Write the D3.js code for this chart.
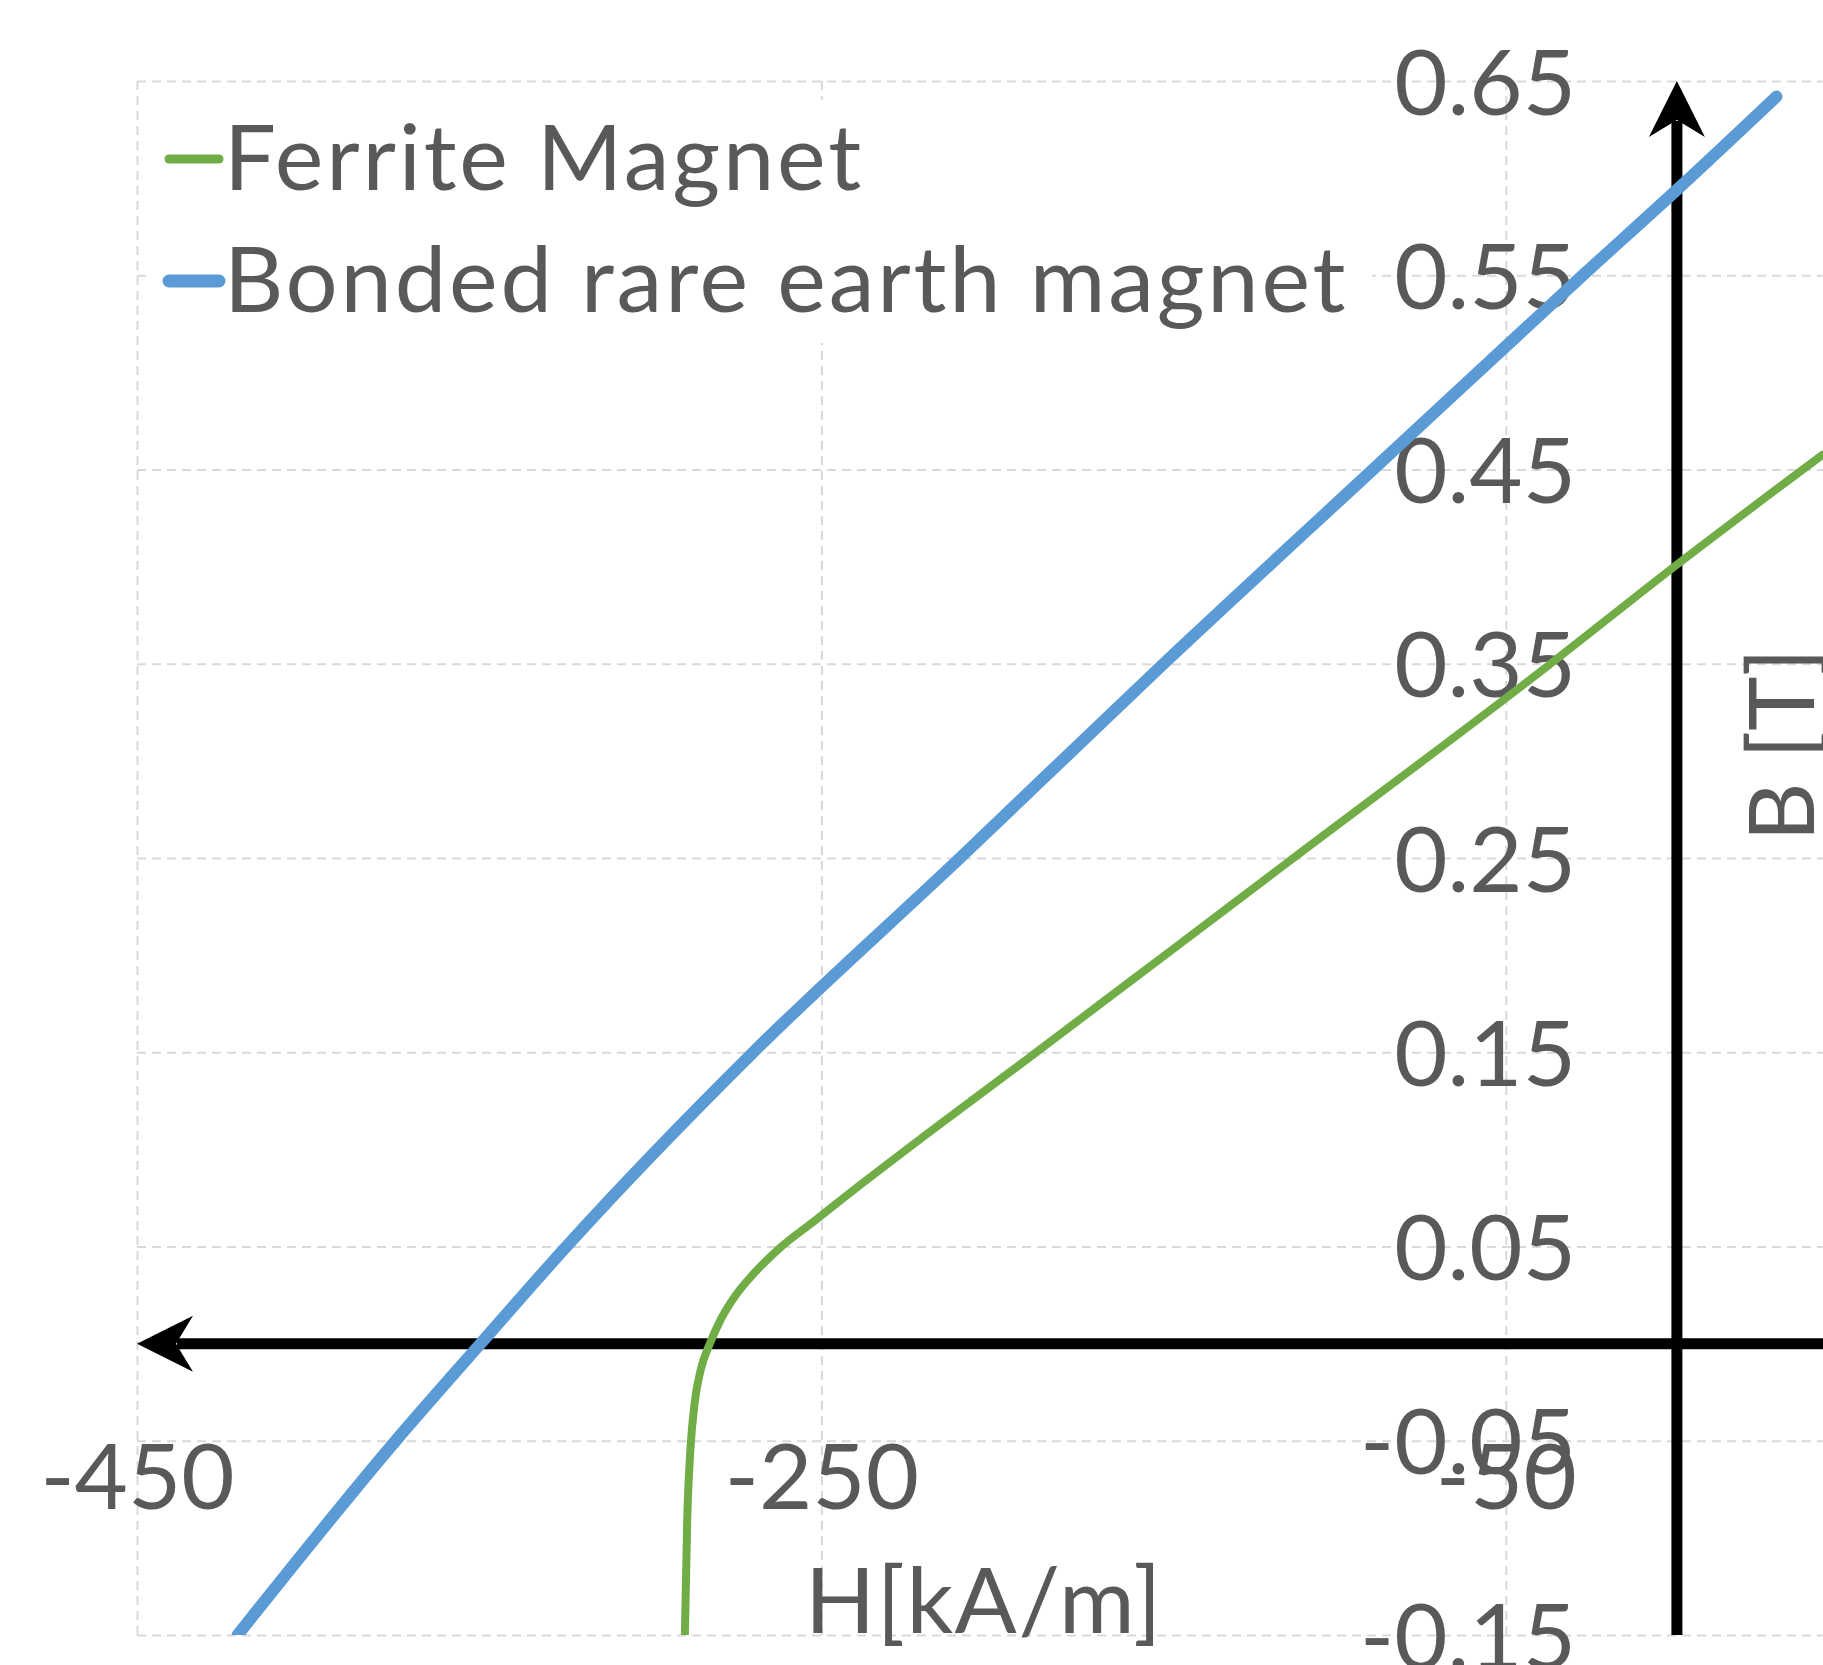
<!DOCTYPE html>
<html>
<head>
<meta charset="utf-8">
<script src="https://cdn.jsdelivr.net/npm/d3@7"></script>
<style>
  html, body { margin: 0; padding: 0; background: #fff; }
  svg { display: block; }
  text { font-family: Lato, "Open Sans", sans-serif; fill: #595959; }
</style>
</head>
<body>
<div id="chart"></div>
<script>
// axis ticks
const hTicks = [-450, -250, -50];
const bTicks = [-0.15, -0.05, 0.05, 0.15, 0.25, 0.35, 0.45, 0.55, 0.65];

// series (H in kA/m, B in T)
const seriesNames = ['Ferrite Magnet', 'Bonded rare earth magnet'];
const ferriteH = [-289.9, -289.2, -288.3, -287.0, -285.2, -282.6, -279.4, -275.2, -269.8, -262.3, -252, -238, -220, -190, -149, -115, -38, 0, 42.5];
const ferriteB = [-0.15, -0.09, -0.055, -0.03, -0.013, 0, 0.0125, 0.0245, 0.036, 0.049, 0.0632, 0.0826, 0.1068, 0.1463, 0.2008, 0.2461, 0.3485, 0.401, 0.4575];
const bondedH = [-420.6, -374.4, -349.6, -324.5, -269.9, -209.5, -150, -88.8, -27.5, 0, 29.1];
const bondedB = [-0.15, -0.05, 0, 0.05, 0.15, 0.25, 0.35, 0.45, 0.55, 0.594, 0.642];

const W = 1823, H = 1665;
const plot = { left: 137, right: 1848, top: 81, bottom: 1635 };
const fontSize = 92;

const color = d3.scaleOrdinal().domain(seriesNames).range(['#70AD47', '#5B9BD5']);
const strokeW = d3.scaleOrdinal().domain(seriesNames).range([8, 12]);

// plain hyphen for negative numbers, like the original
const locale = d3.formatLocale({ decimal: '.', thousands: ',', grouping: [3], currency: ['', ''], minus: '-' });

const x = d3.scaleLinear().domain([-450, 50]).range([plot.left, plot.right]);
const y = d3.scaleLinear().domain([-0.15, 0.65]).range([plot.bottom, plot.top]);

const svg = d3.select('#chart').append('svg')
  .attr('width', W).attr('height', H);
svg.append('rect').attr('width', W).attr('height', H).attr('fill', '#fff');

// gridlines
const gridV = svg.append('g')
  .attr('transform', `translate(0,${plot.bottom})`)
  .call(d3.axisBottom(x).tickValues(hTicks).tickSize(-(plot.bottom - plot.top)).tickFormat(''));
const gridH = svg.append('g')
  .attr('transform', `translate(${plot.left},0)`)
  .call(d3.axisLeft(y).tickValues(bTicks).tickSize(-(W - plot.left)).tickFormat(''));
[gridV, gridH].forEach(g => {
  g.select('.domain').remove();
  g.selectAll('line')
    .attr('stroke', '#D9D9D9')
    .attr('stroke-width', 2)
    .attr('stroke-dasharray', '9,6');
});

// tick labels
const yLabels = svg.append('g')
  .attr('transform', 'translate(1576,0)')
  .call(d3.axisLeft(y).tickValues(bTicks).tickSize(0).tickPadding(0).tickFormat(locale.format('.2f')));
yLabels.select('.domain').remove();
yLabels.selectAll('text')
  .attr('font-size', fontSize).attr('font-family', null).attr('fill', null)
  .attr('dy', '0.36em');

const xLabels = svg.append('g')
  .attr('transform', 'translate(0,1509)')
  .call(d3.axisBottom(x).tickValues(hTicks).tickSize(0).tickPadding(0).tickFormat(locale.format('d')));
xLabels.select('.domain').remove();
xLabels.selectAll('text')
  .attr('font-size', fontSize).attr('font-family', null).attr('fill', null)
  .attr('y', 0).attr('dy', null);

// axis titles
svg.append('text')
  .attr('x', 984).attr('y', 1633)
  .attr('text-anchor', 'middle')
  .attr('font-size', fontSize)
  .attr('letter-spacing', 1.5)
  .text('H[kA/m]');
svg.append('text')
  .attr('transform', 'translate(1814,745) rotate(-90)')
  .attr('text-anchor', 'middle')
  .attr('font-size', fontSize)
  .text('B [T]');

// black axes with arrow heads
const axisColor = '#000';
const axisW = 11;
svg.append('line')
  .attr('x1', x(-450) + 40).attr('x2', W)
  .attr('y1', y(0)).attr('y2', y(0))
  .attr('stroke', axisColor).attr('stroke-width', axisW);
svg.append('path')
  .attr('d', `M${x(-450)},${y(0)} L${x(-450) + 56},${y(0) - 28} L${x(-450) + 39},${y(0)} L${x(-450) + 56},${y(0) + 28} Z`)
  .attr('fill', axisColor);
svg.append('line')
  .attr('x1', x(0)).attr('x2', x(0))
  .attr('y1', y(-0.15)).attr('y2', y(0.65) + 40)
  .attr('stroke', axisColor).attr('stroke-width', axisW);
svg.append('path')
  .attr('d', `M${x(0)},${y(0.65)} L${x(0) - 28},${y(0.65) + 56} L${x(0)},${y(0.65) + 39} L${x(0) + 28},${y(0.65) + 56} Z`)
  .attr('fill', axisColor);

// series
svg.append('clipPath').attr('id', 'plotClip')
  .append('rect')
  .attr('x', 0).attr('y', plot.top)
  .attr('width', W).attr('height', plot.bottom - plot.top);

const series = [
  { name: seriesNames[0], points: ferriteH.map((h, i) => [h, ferriteB[i]]) },
  { name: seriesNames[1], points: bondedH.map((h, i) => [h, bondedB[i]]) }
];

const line = d3.line()
  .x(d => x(d[0]))
  .y(d => y(d[1]))
  .curve(d3.curveMonotoneX);

svg.append('g').attr('clip-path', 'url(#plotClip)')
  .selectAll('path')
  .data(series)
  .join('path')
  .attr('d', d => line(d.points))
  .attr('fill', 'none')
  .attr('stroke', d => color(d.name))
  .attr('stroke-width', d => strokeW(d.name))
  .attr('stroke-linecap', 'round')
  .attr('stroke-linejoin', 'round');

// legend
const legend = svg.append('g');
legend.append('rect')
  .attr('x', 150).attr('y', 100)
  .attr('width', 1222).attr('height', 243)
  .attr('fill', '#fff');
const items = legend.selectAll('g.item')
  .data(seriesNames)
  .join('g')
  .attr('class', 'item')
  .attr('transform', (d, i) => `translate(0,${159 + i * 122})`);
items.append('line')
  .attr('x1', 169).attr('x2', 219)
  .attr('stroke', d => color(d))
  .attr('stroke-width', d => strokeW(d) + 1)
  .attr('stroke-linecap', 'round');
items.append('text')
  .attr('x', 224).attr('y', 31)
  .attr('font-size', fontSize)
  .attr('letter-spacing', 2.8)
  .text(d => d);
</script>
</body>
</html>
